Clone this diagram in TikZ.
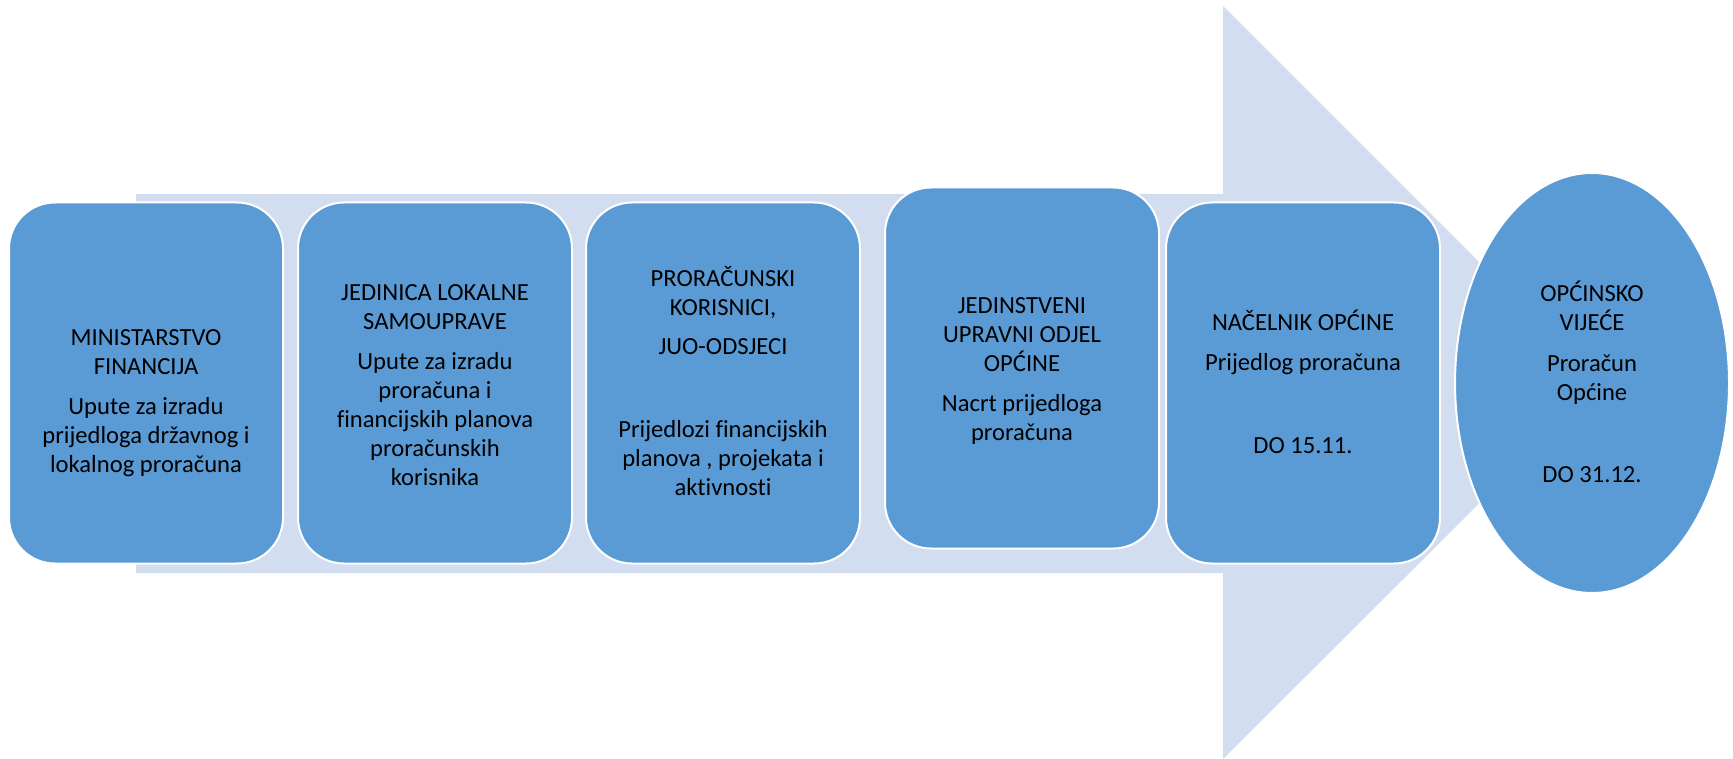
\documentclass[tikz,border=0pt]{standalone}
\usepackage{fontspec}
\setmainfont{Carlito}[Ligatures=NoCommon]
\usetikzlibrary{shapes.geometric}
\definecolor{arrowblue}{HTML}{D2DEEF}
\definecolor{stageblue}{HTML}{5B9BD5}
\begin{document}
\begin{tikzpicture}[x=0.5pt,y=-0.5pt]
    \tikzstyle{stage}=[draw=white, line width=1pt, fill=stageblue, rounded corners=23pt, minimum width=137pt, minimum height=180.5pt, inner sep=0pt]
    \tikzstyle{council}=[ellipse, draw=white, line width=1pt, fill=stageblue, minimum width=137pt, minimum height=210pt, inner sep=0pt]
    \tikzstyle{stagetext}=[align=center, anchor=base, inner sep=0pt, font=\fontsize{12.3}{14.5}\selectfont]
    \useasboundingbox (0,0) rectangle (1733,759);
    % background arrow
    \fill [arrowblue] (136,194) -- (1223,194) -- (1223,6) -- (1600,383) -- (1223,759) -- (1223,573) -- (136,573) -- cycle;
    % stages
    \node [stage] (ministry) at (146,383) {};
    \node [stage] (local) at (435,383) {};
    \node [stage] (users) at (723,383) {};
    \node [stage] (office) at (1022,368) {};
    \node [stage] (mayor) at (1303,383) {};
    \node [council] (vijece) at (1592,383) {};
    % texts (anchored at the baseline of the last line)
    \node [stagetext] (ministrytext) at (146,472) {MINISTARSTVO\\FINANCIJA\\[5.5pt]Upute za izradu\\prijedloga državnog i\\lokalnog proračuna};
    \node [stagetext] (localtext) at (435,485) {JEDINICA LOKALNE\\SAMOUPRAVE\\[5.5pt]Upute za izradu\\proračuna i\\financijskih planova\\proračunskih\\korisnika};
    \node [stagetext] (userstext) at (723,495) {PRORAČUNSKI\\KORISNICI,\\[5pt]JUO-ODSJECI\\[27pt]Prijedlozi financijskih\\planova , projekata i\\aktivnosti};
    \node [stagetext] (officetext) at (1022,440) {JEDINSTVENI\\UPRAVNI ODJEL\\OPĆINE\\[5.5pt]Nacrt prijedloga\\proračuna};
    \node [stagetext] (mayortext) at (1303,453) {NAČELNIK OPĆINE\\[5.5pt]Prijedlog proračuna\\[27pt]DO 15.11.};
    \node [stagetext] (vijecetext) at (1592,482) {OPĆINSKO\\VIJEĆE\\[6pt]Proračun\\Općine\\[26.5pt]DO 31.12.};
\end{tikzpicture}
\end{document}
